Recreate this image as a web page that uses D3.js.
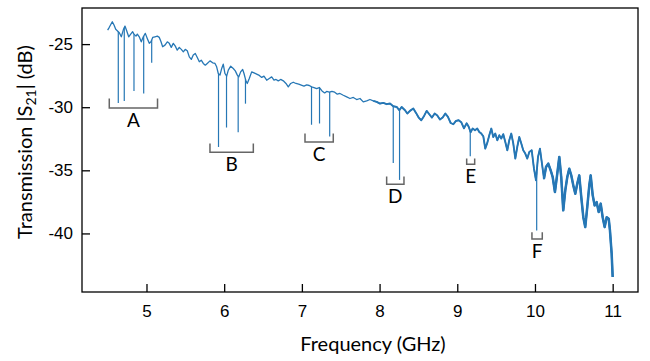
<!DOCTYPE html>
<html lang="en">
<head>
    <meta charset="UTF-8">
    <title>Transmission |S21|</title>
    <style>
        body { margin: 0; background: #fff; }
        svg { font-family: Lato, "Open Sans", sans-serif; }
        .tick text { font-size: 17px; fill: #000; }
        .axis-title { font-size: 20px; fill: #000; }
        .group-label { font-size: 19px; fill: #000; }
    </style>
</head>
<body>
    <svg width="650" height="361"></svg>

    <script src="https://d3js.org/d3.v7.min.js"></script>
    <script>
        // measured trace (GHz, dB)
        const freq = [4.500, 4.521, 4.560, 4.582, 4.604, 4.624, 4.650, 4.676, 4.701, 4.723,
            4.745, 4.771, 4.797, 4.822, 4.839, 4.865, 4.882, 4.907, 4.933, 4.959,
            4.985, 5.010, 5.036, 5.058, 5.080, 5.109, 5.139, 5.165, 5.187, 5.208,
            5.238, 5.268, 5.293, 5.319, 5.345, 5.371, 5.396, 5.422, 5.448, 5.474,
            5.499, 5.525, 5.551, 5.577, 5.602, 5.628, 5.654, 5.680, 5.705, 5.731,
            5.757, 5.782, 5.817, 5.852, 5.882, 5.903, 5.924, 5.946, 5.968, 5.988,
            6.010, 6.032, 6.053, 6.084, 6.117, 6.143, 6.169, 6.187, 6.212, 6.238,
            6.255, 6.277, 6.297, 6.323, 6.354, 6.384, 6.418, 6.452, 6.483, 6.512,
            6.547, 6.580, 6.611, 6.641, 6.667, 6.696, 6.727, 6.761, 6.795, 6.825,
            6.856, 6.889, 6.924, 6.959, 6.992, 7.027, 7.062, 7.095, 7.126, 7.156,
            7.190, 7.224, 7.259, 7.293, 7.319, 7.353, 7.387, 7.422, 7.456, 7.490,
            7.533, 7.577, 7.619, 7.662, 7.705, 7.748, 7.790, 7.834, 7.876, 7.919,
            7.963, 8.005, 8.048, 8.091, 8.134, 8.176, 8.220, 8.254, 8.284, 8.327,
            8.357, 8.391, 8.434, 8.469, 8.503, 8.537, 8.571, 8.606, 8.640, 8.674,
            8.709, 8.743, 8.777, 8.812, 8.846, 8.880, 8.915, 8.949, 8.983, 9.018,
            9.051, 9.086, 9.121, 9.147, 9.172, 9.198, 9.228, 9.257, 9.283, 9.309,
            9.335, 9.360, 9.386, 9.412, 9.438, 9.463, 9.489, 9.515, 9.541, 9.566,
            9.592, 9.618, 9.644, 9.669, 9.695, 9.721, 9.747, 9.772, 9.798, 9.824,
            9.849, 9.875, 9.901, 9.927, 9.958, 9.987, 10.013, 10.039, 10.064, 10.090,
            10.116, 10.142, 10.171, 10.202, 10.228, 10.257, 10.287, 10.313, 10.338, 10.364,
            10.390, 10.416, 10.441, 10.467, 10.493, 10.519, 10.544, 10.570, 10.596, 10.622,
            10.647, 10.673, 10.699, 10.717, 10.743, 10.768, 10.794, 10.820, 10.846, 10.871,
            10.897, 10.923, 10.949, 10.965, 10.987, 11.000];

        const s21 = [-23.89, -23.67, -23.23, -23.49, -23.83, -23.94, -24.10, -24.42, -23.89, -23.57,
            -23.94, -24.42, -24.21, -24.02, -24.21, -24.37, -24.21, -24.42, -24.82, -24.42,
            -24.15, -24.55, -24.94, -24.82, -24.47, -24.42, -24.37, -24.47, -24.82, -25.21,
            -25.08, -24.82, -24.94, -25.26, -24.94, -25.16, -25.48, -25.26, -25.42, -25.61,
            -25.42, -25.53, -26.01, -26.21, -25.87, -25.74, -26.06, -26.40, -26.27, -26.53,
            -26.67, -26.53, -26.33, -26.48, -26.53, -26.80, -27.33, -27.46, -26.93, -26.59,
            -27.33, -27.54, -27.06, -26.75, -26.93, -27.12, -27.46, -27.60, -27.20, -27.01,
            -27.33, -27.86, -28.12, -27.72, -27.20, -27.28, -27.38, -27.48, -27.64, -27.54,
            -27.86, -27.72, -27.60, -27.86, -27.80, -27.91, -27.80, -27.91, -28.12, -28.39,
            -28.12, -28.02, -28.12, -28.17, -28.25, -28.33, -28.23, -28.28, -28.39, -28.44,
            -28.52, -28.44, -28.71, -28.87, -28.75, -28.81, -28.75, -28.81, -28.97, -28.91,
            -29.05, -29.18, -29.31, -29.23, -29.39, -29.31, -29.58, -29.50, -29.39, -29.50,
            -29.58, -29.71, -29.66, -29.76, -29.71, -29.92, -29.98, -30.24, -29.98, -30.24,
            -30.50, -30.29, -30.10, -30.45, -30.82, -31.03, -30.71, -30.29, -30.56, -30.82,
            -30.50, -30.66, -30.98, -30.82, -30.50, -30.77, -31.25, -31.35, -31.09, -31.03,
            -31.19, -31.67, -31.27, -31.55, -31.98, -31.69, -31.83, -31.69, -31.96, -32.09,
            -32.30, -33.28, -32.83, -32.22, -31.69, -32.36, -32.09, -32.62, -32.22, -32.48,
            -32.14, -32.75, -33.41, -32.62, -32.09, -32.88, -34.07, -33.15, -32.36, -32.88,
            -33.41, -33.67, -34.07, -33.55, -33.41, -34.87, -35.79, -33.94, -33.28, -34.47,
            -35.66, -34.74, -34.47, -35.00, -35.53, -36.72, -35.26, -33.94, -35.53, -38.17,
            -36.59, -35.53, -34.87, -35.40, -36.19, -36.85, -36.06, -35.40, -37.12, -38.71,
            -39.50, -37.91, -36.19, -35.40, -36.98, -37.78, -37.52, -38.31, -37.64, -38.71,
            -39.50, -38.71, -38.83, -39.76, -41.61, -43.45];

        // resonance dips: frequency and depth (dB)
        const dipFreq = [4.637, 4.714, 4.839, 4.964, 5.067,
            5.927, 6.030, 6.180, 6.274,
            7.124, 7.227, 7.358,
            8.176, 8.257,
            9.167,
            10.022];
        const dipDepth = [-29.66, -29.50, -28.71, -28.91, -26.48,
            -33.15, -31.61, -31.98, -29.72,
            -31.39, -31.29, -32.33,
            -34.42, -35.76,
            -33.89,
            -39.76];

        // bracket groups
        const groupLabels = ['A', 'B', 'C', 'D', 'E', 'F'];
        const groupStart = [4.521, 5.817, 7.040, 8.091, 9.121, 9.961];
        const groupEnd = [5.142, 6.375, 7.404, 8.314, 9.224, 10.094];
        const groupTop = [-29.31, -32.88, -32.09, -35.48, -34.07, -39.90];
        const groupBottom = [-30.06, -33.57, -32.75, -36.11, -34.52, -40.45];

        const xTicks = [5, 6, 7, 8, 9, 10, 11];
        const yTicks = [-25, -30, -35, -40];

        const width = 650, height = 361;
        const margin = { top: 8, right: 12, bottom: 69, left: 82 };
        const innerW = width - margin.left - margin.right;
        const innerH = height - margin.top - margin.bottom;

        const svg = d3.select('svg');
        const g = svg.append('g').attr('transform', `translate(${margin.left},${margin.top})`);

        const x = d3.scaleLinear().domain([4.17, 11.326]).range([0, innerW]);
        const y = d3.scaleLinear().domain([-44.64, -22.14]).range([innerH, 0]);

        const lineColor = '#2677b5';

        // axes (ticks inward)
        const xAxis = g.append('g')
            .attr('transform', `translate(0,${innerH})`)
            .call(d3.axisBottom(x).tickValues(xTicks).tickSize(-8).tickPadding(13).tickFormat(d3.format('d')));
        const yAxis = g.append('g')
            .call(d3.axisLeft(y).tickValues(yTicks).tickSize(-8).tickPadding(9).tickFormat(d => d));
        [xAxis, yAxis].forEach(a => {
            a.select('.domain').remove();
            a.selectAll('.tick line').attr('stroke', '#000').attr('stroke-width', 1.3);
            a.selectAll('.tick text').attr('font-family', null).attr('font-size', null);
        });

        // trace; the high-frequency part is a noisier, wider band in the original
        const pts = freq.map((f, i) => ({ f: f, v: s21[i] }));
        const line = d3.line().x(d => x(d.f)).y(d => y(d.v));
        const bands = [
            { from: 4.0, w: 1.3 },
            { from: 7.9, w: 1.9 },
            { from: 10.1, w: 2.5 }
        ];
        bands.forEach(b => {
            g.append('path')
                .datum(pts.filter(d => d.f >= b.from))
                .attr('fill', 'none')
                .attr('stroke', lineColor)
                .attr('stroke-width', b.w)
                .attr('stroke-linejoin', 'round')
                .attr('d', line);
        });

        // curve level at a given frequency, for the top of each dip line
        const bis = d3.bisector(d => d.f).left;
        function levelAt(f) {
            const i = Math.max(1, Math.min(pts.length - 1, bis(pts, f)));
            const a = pts[i - 1], b = pts[i];
            const t = (f - a.f) / (b.f - a.f);
            return a.v + t * (b.v - a.v);
        }

        g.selectAll('.dip')
            .data(dipFreq.map((f, i) => ({ f: f, d: dipDepth[i] })))
            .enter().append('line')
            .attr('class', 'dip')
            .attr('x1', d => x(d.f)).attr('x2', d => x(d.f))
            .attr('y1', d => y(levelAt(d.f)))
            .attr('y2', d => y(d.d))
            .attr('stroke', lineColor)
            .attr('stroke-width', 1.2);

        // brackets + letters
        const groups = groupLabels.map((l, i) => ({
            l: l, a: groupStart[i], b: groupEnd[i], t: groupTop[i], u: groupBottom[i]
        }));
        g.selectAll('.bracket')
            .data(groups)
            .enter().append('path')
            .attr('class', 'bracket')
            .attr('fill', 'none')
            .attr('stroke', '#666')
            .attr('stroke-width', 1.5)
            .attr('d', d => `M${x(d.a)},${y(d.t)}V${y(d.u)}H${x(d.b)}V${y(d.t)}`);

        g.selectAll('.group-label')
            .data(groups)
            .enter().append('text')
            .attr('class', 'group-label')
            .attr('x', d => (x(d.a) + x(d.b)) / 2)
            .attr('y', d => y(d.u) + 19)
            .attr('text-anchor', 'middle')
            .text(d => d.l);

        // frame
        g.append('rect')
            .attr('width', innerW).attr('height', innerH)
            .attr('fill', 'none').attr('stroke', '#000').attr('stroke-width', 1.3);

        // axis titles
        svg.append('text')
            .attr('class', 'axis-title')
            .attr('x', 373).attr('y', 351)
            .attr('text-anchor', 'middle')
            .text('Frequency (GHz)');

        const yt = svg.append('text')
            .attr('class', 'axis-title')
            .attr('transform', 'translate(32,142) rotate(-90)')
            .attr('text-anchor', 'middle');
        yt.append('tspan').text('Transmission |S');
        yt.append('tspan').attr('font-size', 14).attr('dy', 4).text('21');
        yt.append('tspan').attr('dy', -4).text('| (dB)');
    </script>
</body>
</html>
